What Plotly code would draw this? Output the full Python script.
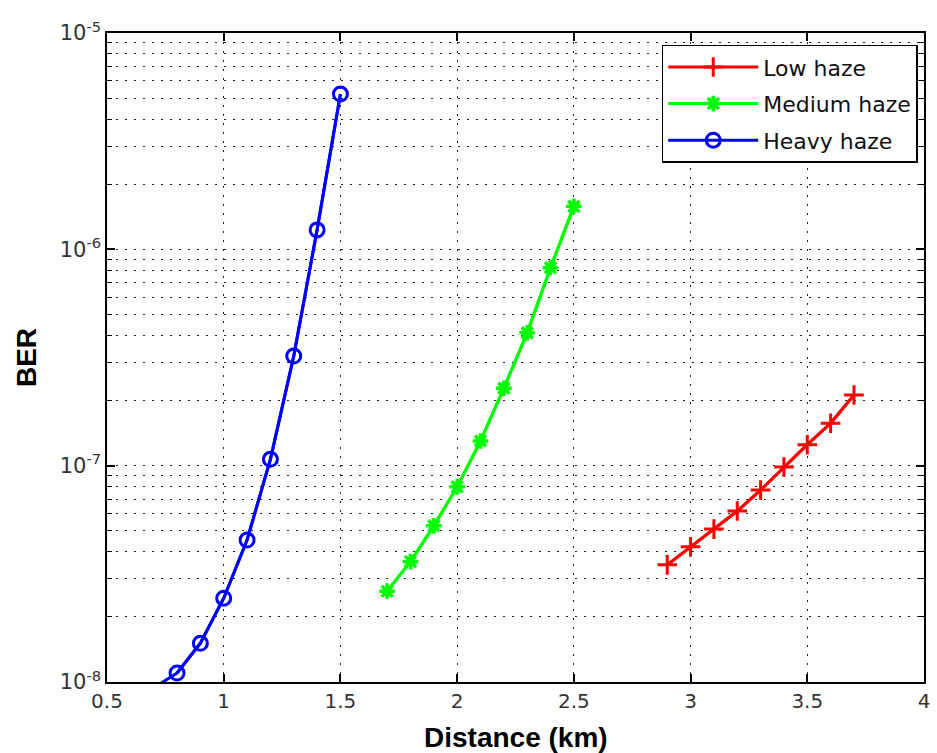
import plotly.graph_objects as go

# Distance (km) and bit error rate for each haze condition
dist_low = [2.9, 3.0, 3.1, 3.2, 3.3, 3.4, 3.5, 3.6, 3.7]
ber_low = [3.48e-8, 4.22e-8, 5.09e-8, 6.17e-8, 7.71e-8, 9.86e-8, 1.25e-7, 1.57e-7, 2.12e-7]

dist_medium = [1.7, 1.8, 1.9, 2.0, 2.1, 2.2, 2.3, 2.4, 2.5]
ber_medium = [2.63e-8, 3.60e-8, 5.27e-8, 7.98e-8, 1.30e-7, 2.28e-7, 4.11e-7, 8.22e-7, 1.58e-6]

dist_heavy = [0.7, 0.8, 0.9, 1.0, 1.1, 1.2, 1.3, 1.4, 1.5]
ber_heavy = [9.4e-9, 1.10e-8, 1.51e-8, 2.44e-8, 4.53e-8, 1.07e-7, 3.21e-7, 1.23e-6, 5.22e-6]

x_ticks = [0.5, 1, 1.5, 2, 2.5, 3, 3.5, 4]
y_decades = [1e-8, 1e-7, 1e-6, 1e-5]
y_decade_labels = ["10<sup>-8</sup>", "10<sup>-7</sup>", "10<sup>-6</sup>", "10<sup>-5</sup>"]
y_minor = [k * d for d in y_decades[:-1] for k in range(2, 10)]

Y_MIN, Y_MAX = 1e-8, 1e-5

TICK_FONT = "DejaVu Sans, Verdana, sans-serif"
TITLE_FONT = "Liberation Sans, Arial, sans-serif"
DOT = "2px,7px"

series = [
    ("Low haze", dist_low, ber_low, "#ff0000",
     dict(symbol="cross-thin-open", size=14, lw=3)),
    ("Medium haze", dist_medium, ber_medium, "#00ff00",
     dict(symbol="asterisk-open", size=13, lw=3.5)),
    ("Heavy haze", dist_heavy, ber_heavy, "#0000ff",
     dict(symbol="circle-open", size=14, lw=3)),
]

fig = go.Figure()
for i, (name, xs, ys, color, m) in enumerate(series):
    # full line, running off the axes where the curve leaves the y range
    fig.add_trace(go.Scatter(
        x=xs, y=ys, mode="lines", line=dict(color=color, width=3),
        showlegend=False, hoverinfo="skip", legendgroup=str(i)))
    # markers only where the point itself lies inside the y range (MATLAB style)
    inside = [(x, y) for x, y in zip(xs, ys) if Y_MIN <= y <= Y_MAX]
    fig.add_trace(go.Scatter(
        x=[p[0] for p in inside], y=[p[1] for p in inside],
        name=name, mode="lines+markers",
        line=dict(color=color, width=3),
        marker=dict(symbol=m["symbol"], size=m["size"], color=color,
                    line=dict(color=color, width=m["lw"])),
        legendgroup=str(i)))

fig.update_layout(
    width=937, height=753,
    margin=dict(l=107, r=7, t=33, b=71),
    paper_bgcolor="white", plot_bgcolor="white",
    font=dict(family=TICK_FONT, size=20, color="#333333"),
    showlegend=True,
    legend=dict(
        x=0.679, y=0.982, xanchor="left", yanchor="top",
        bgcolor="white", bordercolor="black", borderwidth=1.5,
        font=dict(family=TICK_FONT, size=22, color="#111111"),
        tracegroupgap=5, itemwidth=90,
    ),
    xaxis=dict(
        range=[0.5, 4], tickvals=x_ticks,
        showline=True, linecolor="black", linewidth=1.5, mirror="ticks",
        ticks="inside", ticklen=8, tickcolor="black", tickwidth=1.5,
        showgrid=True, gridcolor="#222222", gridwidth=1, griddash=DOT,
        zeroline=False,
    ),
    yaxis=dict(
        type="log", range=[-8, -5], tickvals=y_decades, ticktext=y_decade_labels,
        tickfont=dict(size=21),
        showline=True, linecolor="black", linewidth=1.5, mirror="ticks",
        ticks="inside", ticklen=8, tickcolor="black", tickwidth=1.5,
        showgrid=True, gridcolor="#222222", gridwidth=1, griddash=DOT,
        minor=dict(tickvals=y_minor, ticks="inside", ticklen=5,
                   tickcolor="black", tickwidth=1,
                   showgrid=True, gridcolor="#222222", gridwidth=1,
                   griddash=DOT),
        zeroline=False,
    ),
    annotations=[
        dict(text="<b>Distance (km)</b>", xref="paper", yref="paper",
             x=0.5, y=-0.085, xanchor="center", yanchor="middle",
             showarrow=False, font=dict(family=TITLE_FONT, size=28, color="black")),
        dict(text="<b>BER</b>", xref="paper", yref="paper",
             x=-0.0985, y=0.5, xanchor="center", yanchor="middle",
             textangle=-90, showarrow=False,
             font=dict(family=TITLE_FONT, size=28, color="black")),
    ],
)

fig.write_html("out.html")
